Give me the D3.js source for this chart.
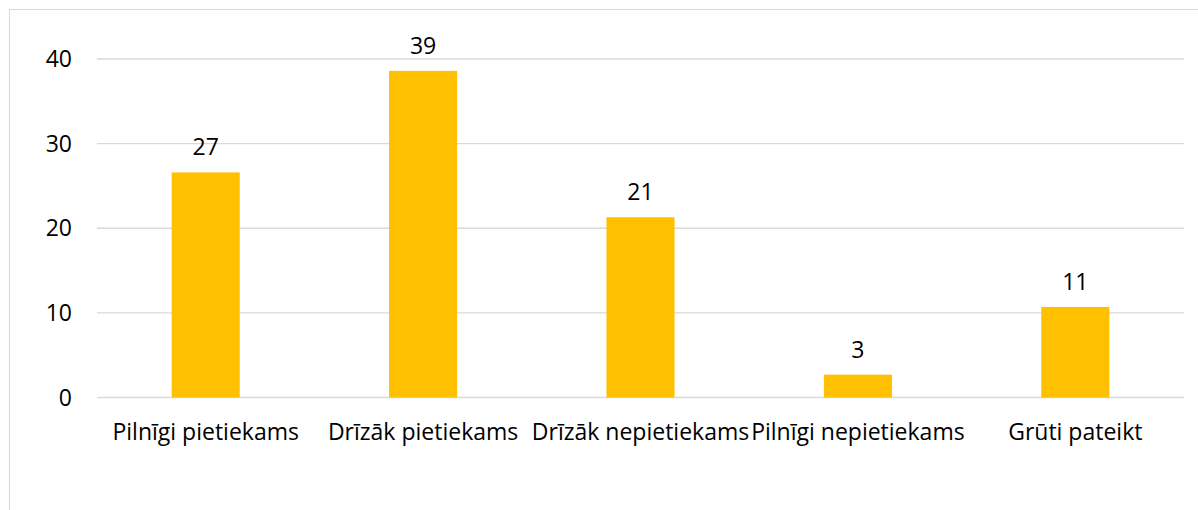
<!DOCTYPE html>
<html lang="lv">
<head>
<meta charset="utf-8">
<title>Chart</title>
<script src="https://d3js.org/d3.v7.min.js"></script>
<style>
  body { margin: 0; background: #fff; }
  text { font-family: "Open Sans", "Noto Sans", sans-serif; fill: #000; }
</style>
</head>
<body>
<script>
var categories = ["Pilnīgi pietiekams", "Drīzāk pietiekams", "Drīzāk nepietiekams", "Pilnīgi nepietiekams", "Grūti pateikt"];
var values = [26.6, 38.6, 21.3, 2.7, 10.7];
var labels = ["27", "39", "21", "3", "11"];
var yTicks = [0, 10, 20, 30, 40];

var w = 1198, h = 510;
var plotLeft = 97, plotRight = 1184, plotTop = 59, plotBottom = 397.5;

var svg = d3.select("body").append("svg")
    .attr("width", w)
    .attr("height", h);

// chart frame (runs off the right and bottom edge)
svg.append("rect")
    .attr("x", 9.5).attr("y", 9.5)
    .attr("width", w).attr("height", h)
    .attr("fill", "none")
    .attr("stroke", "#d9d9d9");

var x = d3.scaleBand()
    .domain(categories)
    .range([plotLeft, plotRight])
    .paddingInner(0.687)
    .paddingOuter(0.3435);

var y = d3.scaleLinear()
    .domain([0, 40])
    .range([plotBottom, plotTop]);

// gridlines
svg.append("g")
  .selectAll("line")
  .data(yTicks)
  .enter().append("line")
    .attr("x1", plotLeft).attr("x2", plotRight)
    .attr("y1", d => y(d)).attr("y2", d => y(d))
    .attr("stroke", "#d9d9d9")
    .attr("stroke-width", 1.3);

// y tick labels
svg.append("g")
  .selectAll("text")
  .data(yTicks)
  .enter().append("text")
    .attr("x", 72)
    .attr("y", d => y(d))
    .attr("dy", "0.35em")
    .attr("text-anchor", "end")
    .style("font-size", "23px")
    .text(d => d);

// bars
svg.append("g")
  .selectAll("rect")
  .data(values)
  .enter().append("rect")
    .attr("x", (d, i) => x(categories[i]))
    .attr("y", d => y(d))
    .attr("width", x.bandwidth())
    .attr("height", d => y(0) - y(d))
    .attr("fill", "#ffc000");

// value labels
svg.append("g")
  .selectAll("text")
  .data(values)
  .enter().append("text")
    .attr("x", (d, i) => x(categories[i]) + x.bandwidth() / 2)
    .attr("y", d => y(d) - 17)
    .attr("text-anchor", "middle")
    .style("font-size", "23px")
    .text((d, i) => labels[i]);

// category labels
svg.append("g")
  .selectAll("text")
  .data(categories)
  .enter().append("text")
    .attr("x", d => x(d) + x.bandwidth() / 2)
    .attr("y", 440)
    .attr("text-anchor", "middle")
    .style("font-size", "23px")
    .text(d => d);
</script>
</body>
</html>
